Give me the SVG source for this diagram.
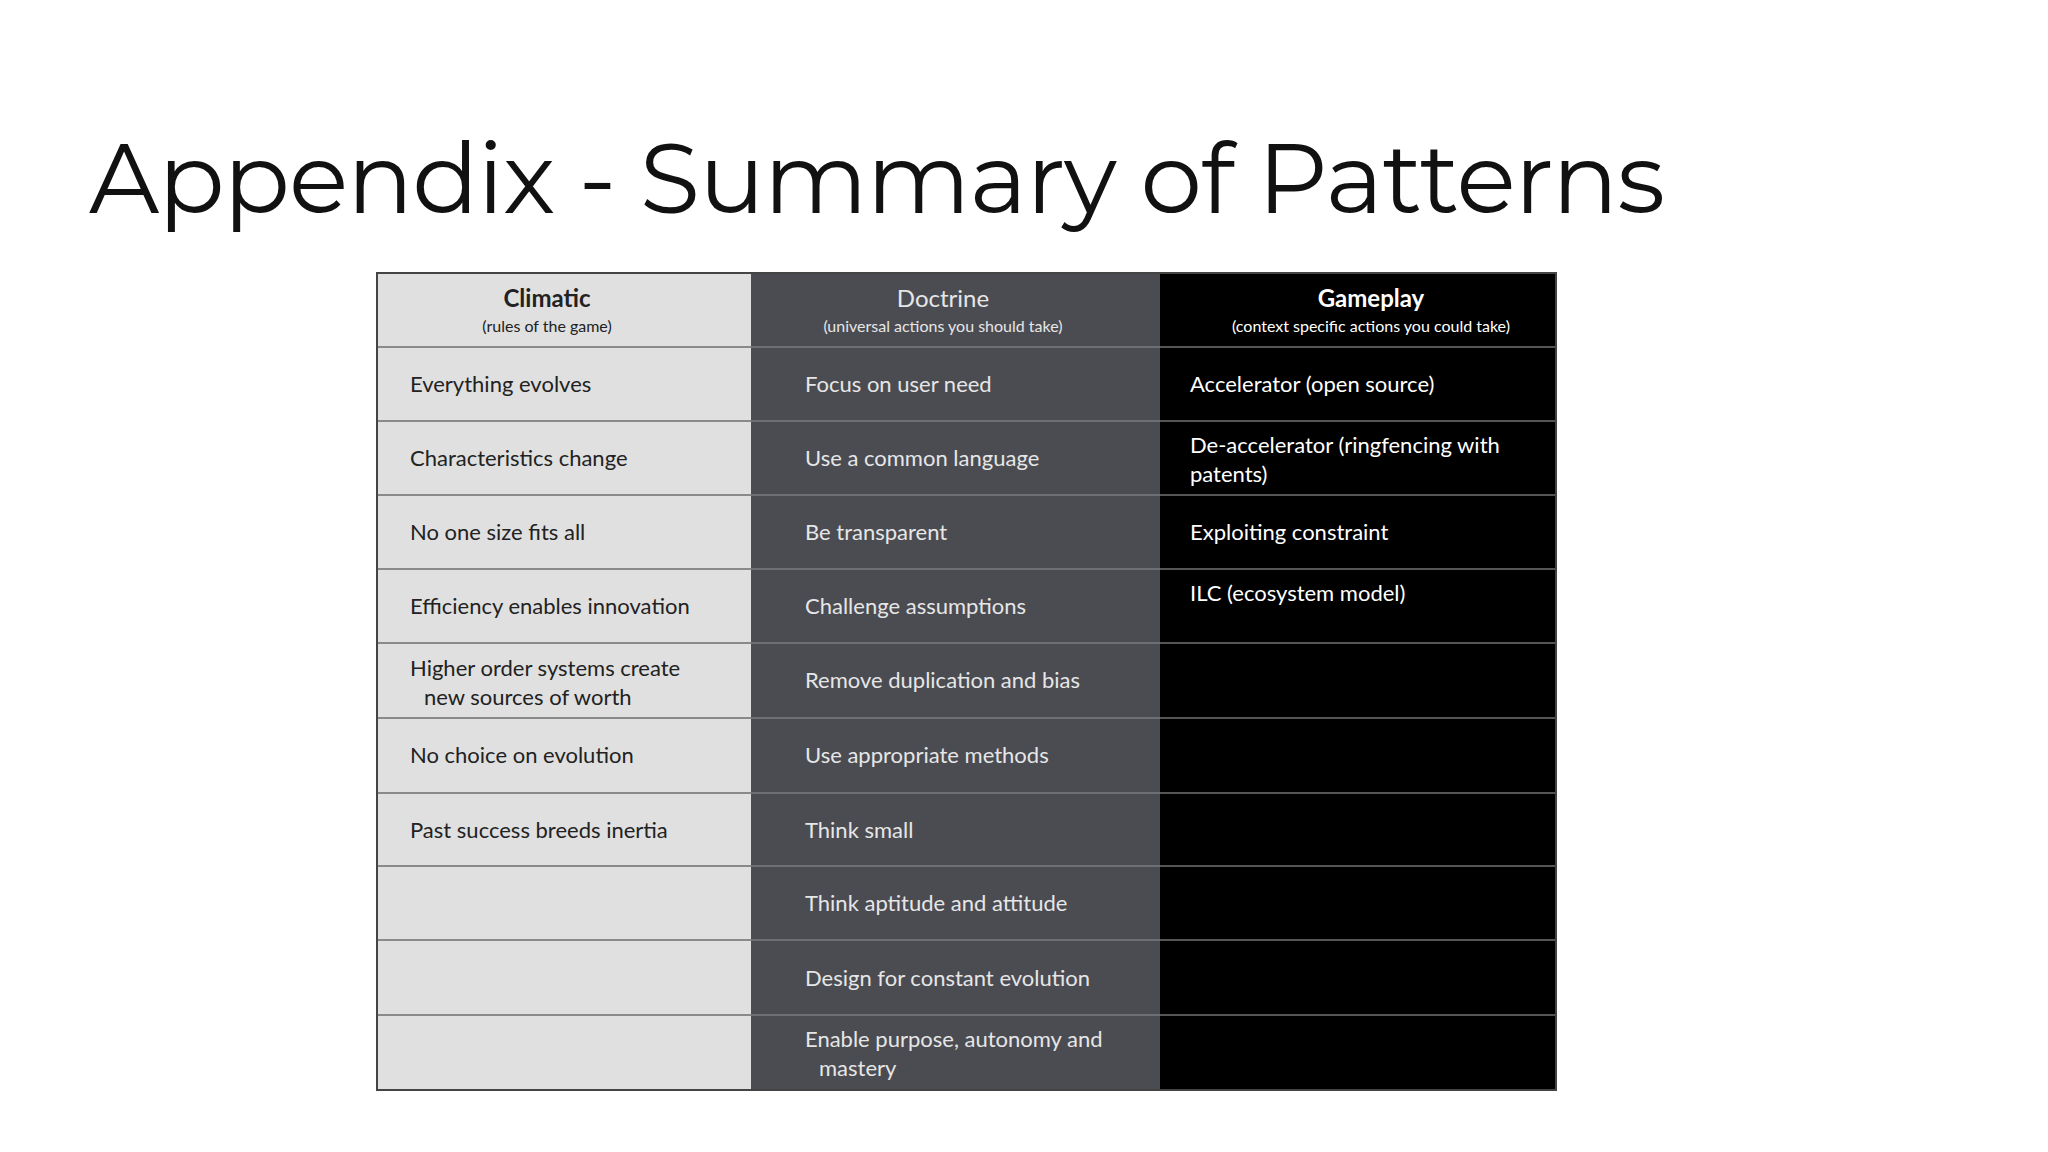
<svg xmlns="http://www.w3.org/2000/svg" width="2048" height="1152" viewBox="0 0 2048 1152">
<style>
.t{font-family:Lato,"Open Sans",sans-serif;font-size:22px}
.c{fill:#222}.d{fill:#e6e6e6}.g{fill:#fff}
.h{font-family:Lato,sans-serif;font-size:24px;text-anchor:middle}
.s{font-family:Lato,sans-serif;font-size:16px;text-anchor:middle}
</style>
<rect width="2048" height="1152" fill="#fff"/>
<text x="89" y="213" font-family="Montserrat,'Open Sans',sans-serif" font-size="98" textLength="1576" fill="#111">Appendix - Summary of Patterns</text>
<g id="columns">
<rect x="376" y="272" width="375" height="819" fill="#e0e0e0"/>
<rect x="751" y="272" width="409" height="819" fill="#4b4c52"/>
<rect x="1160" y="272" width="397" height="819" fill="#000"/>
</g>
<g id="gridlines" stroke-width="2">
<g stroke="#8a8a8a"><path d="M378 347H751M378 421H751M378 495H751M378 569H751M378 643H751M378 718H751M378 793H751M378 866H751M378 940H751M378 1015H751"/></g>
<g stroke="#6e6f74"><path d="M751 347H1160M751 421H1160M751 495H1160M751 569H1160M751 643H1160M751 718H1160M751 793H1160M751 866H1160M751 940H1160M751 1015H1160"/></g>
<g stroke="#555"><path d="M1160 347H1555M1160 421H1555M1160 495H1555M1160 569H1555M1160 643H1555M1160 718H1555M1160 793H1555M1160 866H1555M1160 940H1555M1160 1015H1555"/></g>
<rect x="377" y="273" width="1179" height="817" fill="none" stroke="#444"/>
</g>
<g id="header">
<text x="547" y="307" class="h c" font-weight="bold">Climatic</text>
<text x="547" y="332" class="s c">(rules of the game)</text>
<text x="943" y="307" class="h d">Doctrine</text>
<text x="943" y="332" class="s d">(universal actions you should take)</text>
<text x="1371" y="307" class="h g" font-weight="bold">Gameplay</text>
<text x="1371" y="332" class="s g">(context specific actions you could take)</text>
</g>
<g id="climatic">
<text x="410" y="392" class="t c">Everything evolves</text>
<text x="410" y="466" class="t c">Characteristics change</text>
<text x="410" y="540" class="t c">No one size fits all</text>
<text x="410" y="614" class="t c">Efficiency enables innovation</text>
<text x="410" y="676" class="t c">Higher order systems create</text>
<text x="424" y="705" class="t c">new sources of worth</text>
<text x="410" y="763" class="t c">No choice on evolution</text>
<text x="410" y="838" class="t c">Past success breeds inertia</text>
</g>
<g id="doctrine">
<text x="805" y="392" class="t d">Focus on user need</text>
<text x="805" y="466" class="t d">Use a common language</text>
<text x="805" y="540" class="t d">Be transparent</text>
<text x="805" y="614" class="t d">Challenge assumptions</text>
<text x="805" y="688" class="t d">Remove duplication and bias</text>
<text x="805" y="763" class="t d">Use appropriate methods</text>
<text x="805" y="838" class="t d">Think small</text>
<text x="805" y="911" class="t d">Think aptitude and attitude</text>
<text x="805" y="986" class="t d">Design for constant evolution</text>
<text x="805" y="1047" class="t d">Enable purpose, autonomy and</text>
<text x="819" y="1076" class="t d">mastery</text>
</g>
<g id="gameplay">
<text x="1190" y="392" class="t g">Accelerator (open source)</text>
<text x="1190" y="453" class="t g">De-accelerator (ringfencing with</text>
<text x="1190" y="482" class="t g">patents)</text>
<text x="1190" y="540" class="t g">Exploiting constraint</text>
<text x="1190" y="601" class="t g">ILC (ecosystem model)</text>
</g>
</svg>
